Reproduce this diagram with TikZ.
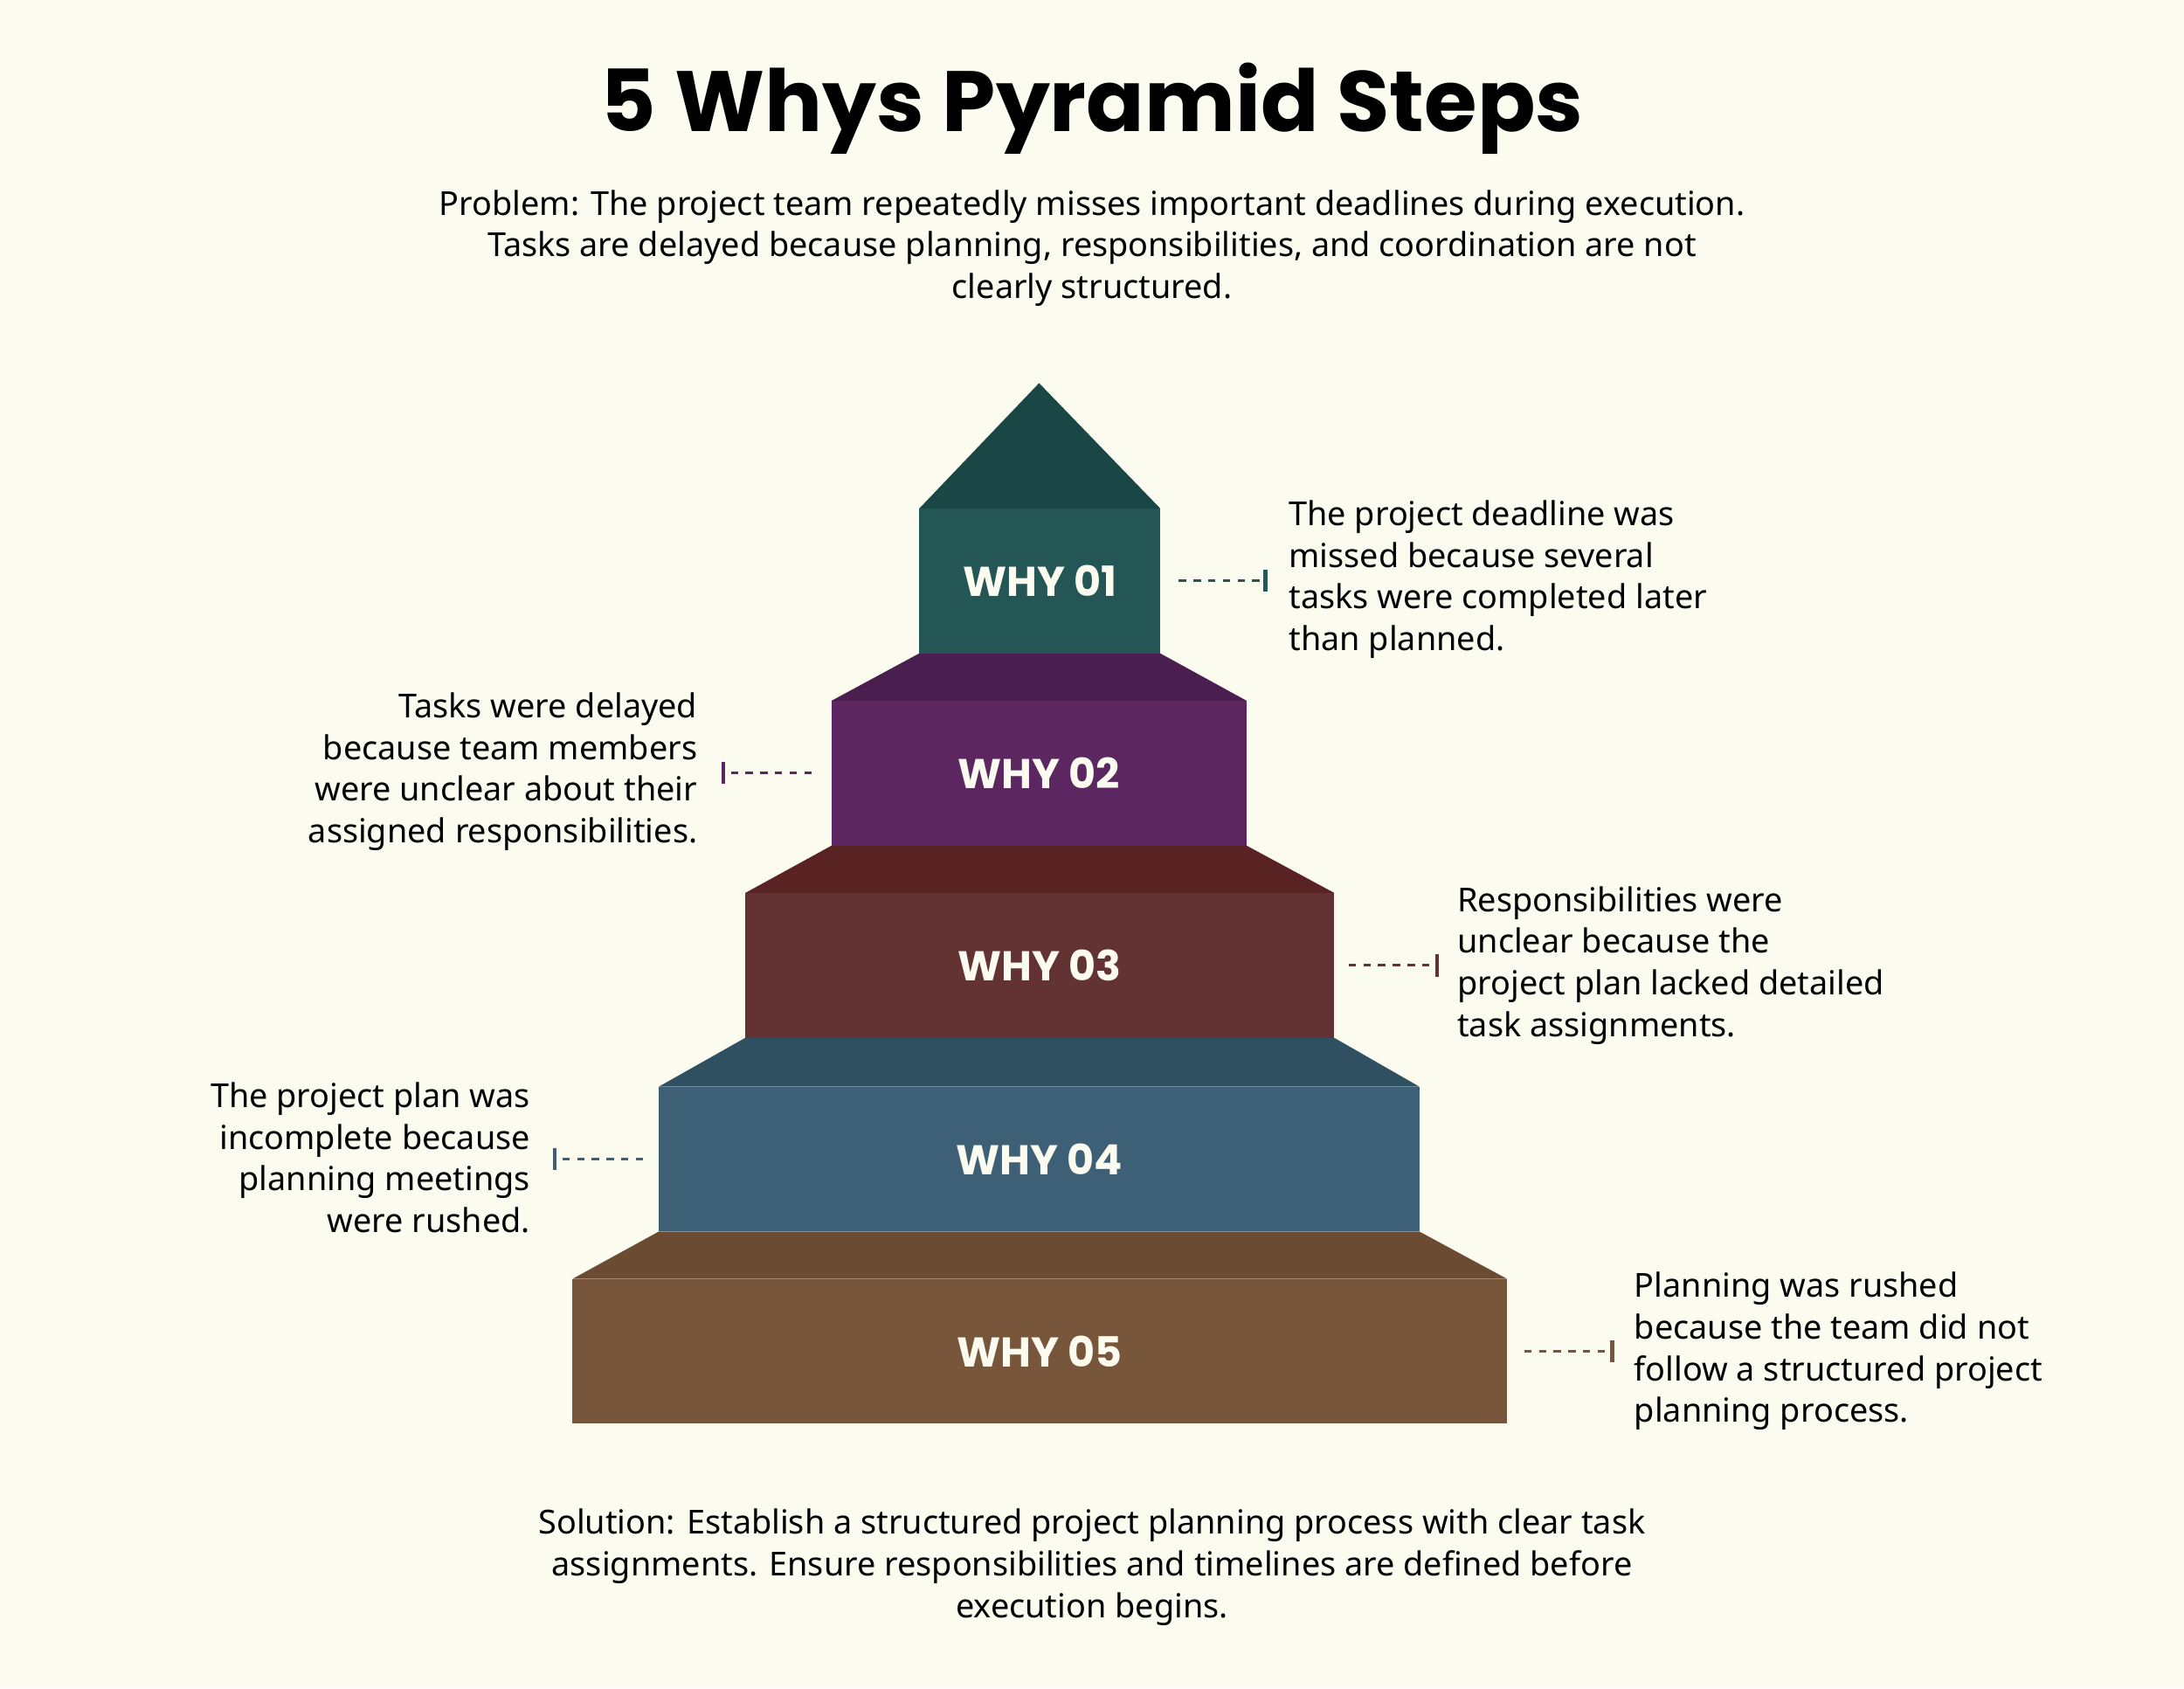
\documentclass[tikz,border=0pt]{standalone}
\usepackage{fontspec}
\setmainfont{Noto Sans}
\newfontfamily\headfont{Poppins}
\usetikzlibrary{arrows.meta}
\definecolor{paper}{HTML}{FBFBF0}
\definecolor{roofc}{HTML}{1A4646}
\definecolor{boxa}{HTML}{245656}
\definecolor{tapb}{HTML}{4A1E4E}
\definecolor{boxb}{HTML}{5C2760}
\definecolor{tapc}{HTML}{5A2323}
\definecolor{boxc}{HTML}{633232}
\definecolor{tapd}{HTML}{2F5060}
\definecolor{boxd}{HTML}{3E6076}
\definecolor{tape}{HTML}{6B4C33}
\definecolor{boxe}{HTML}{77563B}
\tikzset{
  whybox/.style={inner sep=0pt, minimum height=2.08cm, text=paper,
    font=\headfont\bfseries\fontsize{17}{20}\selectfont},
  note/.style={inner sep=0pt, font=\fontsize{13.5}{17}\selectfont},
  conn/.style={dashed, line width=1.1pt, -{Bar[width=9pt,line width=1.6pt]}}
}
\begin{document}
\begin{tikzpicture}[x=0.02cm, y=-0.02cm]
\fill[paper] (0,0) rectangle (1568,1212);
\useasboundingbox (0,0) rectangle (1568,1212);

\node[font=\headfont\bfseries\fontsize{35}{40}\selectfont] (title) at (784,78) {5 Whys Pyramid Steps};
\node[note, align=center] (problem) at (784,178) {\textbf{Problem:} The project team repeatedly misses important deadlines during execution.\\
Tasks are delayed because planning, responsibilities, and coordination are not\\ clearly structured.};

% pyramid
\fill[roofc] (746,275) -- (833,365) -- (660,365) -- cycle;
\fill[tapb] (660,469) -- (833,469) -- (895,503) -- (597,503) -- cycle;
\fill[tapc] (597,607) -- (895,607) -- (958,641) -- (535,641) -- cycle;
\fill[tapd] (535,745) -- (958,745) -- (1019,780) -- (473,780) -- cycle;
\fill[tape] (473,884) -- (1019,884) -- (1082,918) -- (411,918) -- cycle;
\node[whybox, fill=boxa, minimum width=3.46cm] (why1) at (746.5,417) {WHY 01};
\node[whybox, fill=boxb, minimum width=5.96cm] (why2) at (746,555) {WHY 02};
\node[whybox, fill=boxc, minimum width=8.46cm] (why3) at (746.5,693) {WHY 03};
\node[whybox, fill=boxd, minimum width=10.92cm] (why4) at (746,832) {WHY 04};
\node[whybox, fill=boxe, minimum width=13.42cm] (why5) at (746.5,970) {WHY 05};

% notes
\node[note, align=left, anchor=west] (note1) at (925,416) {The project deadline was\\ missed because several\\ tasks were completed later\\ than planned.};
\node[note, align=right, anchor=east] (note2) at (501,554) {Tasks were delayed\\ because team members\\ were unclear about their\\ assigned responsibilities.};
\node[note, align=left, anchor=west] (note3) at (1046,693) {Responsibilities were\\ unclear because the\\ project plan lacked detailed\\ task assignments.};
\node[note, align=right, anchor=east] (note4) at (381,831) {The project plan was\\ incomplete because\\ planning meetings\\ were rushed.};
\node[note, align=left, anchor=west] (note5) at (1173,970) {Planning was rushed\\ because the team did not\\ follow a structured project\\ planning process.};

\draw[conn, boxa] ([xshift=0.26cm]why1.east) -- ([xshift=-0.3cm]note1.west |- why1.east);
\draw[conn, boxb] ([xshift=-0.28cm]why2.west) -- ([xshift=0.34cm]note2.east |- why2.west);
\draw[conn, boxc] ([xshift=0.2cm]why3.east) -- ([xshift=-0.26cm]note3.west |- why3.east);
\draw[conn, boxd] ([xshift=-0.22cm]why4.west) -- ([xshift=0.32cm]note4.east |- why4.west);
\draw[conn, boxe] ([xshift=0.24cm]why5.east) -- ([xshift=-0.28cm]note5.west |- why5.east);

\node[note, align=center] (solution) at (784,1125) {\textbf{Solution:} Establish a structured project planning process with clear task\\
assignments. Ensure responsibilities and timelines are defined before\\ execution begins.};
\end{tikzpicture}
\end{document}
